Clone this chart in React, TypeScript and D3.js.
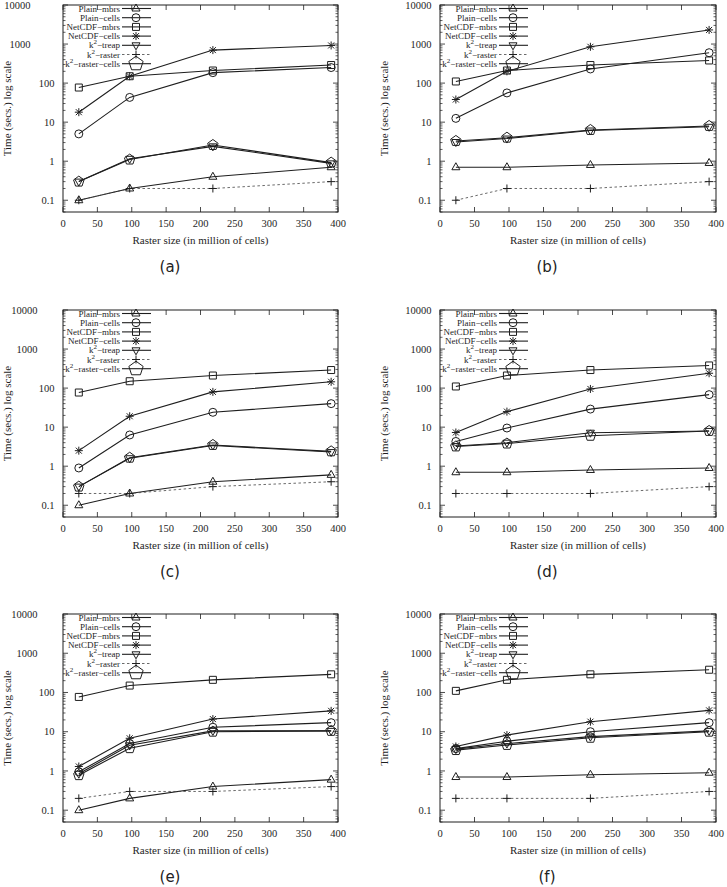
import { useEffect, useRef } from "react";
import * as d3 from "d3";

// raster sizes (million cells) shared by every panel
const rasterSizes = [23, 97, 218, 390];
const panelNames = ["(a)", "(b)", "(c)", "(d)", "(e)", "(f)"];
const seriesNames = [
	"Plain−mbrs",
	"Plain−cells",
	"NetCDF−mbrs",
	"NetCDF−cells",
	"k^2−treap",
	"k^2−raster",
	"k^2−raster−cells",
];
const xTickValues = [0, 50, 100, 150, 200, 250, 300, 350, 400];
const yTickValues = [0.1, 1, 10, 100, 1000, 10000];

// one row per panel (a..f), values in seconds
const plainMbrs = [
	[0.1, 0.2, 0.4, 0.7],
	[0.7, 0.7, 0.8, 0.9],
	[0.1, 0.2, 0.4, 0.6],
	[0.7, 0.7, 0.8, 0.9],
	[0.1, 0.2, 0.4, 0.6],
	[0.7, 0.7, 0.8, 0.9],
];
const plainCells = [
	[5, 43, 185, 250],
	[12.5, 56, 230, 600],
	[0.9, 6.3, 24, 40],
	[4.3, 9.5, 29, 68],
	[0.95, 5, 13, 17],
	[3.7, 5.7, 10, 17],
];
const netcdfMbrs = [
	[77, 150, 210, 290],
	[110, 210, 290, 380],
	[77, 150, 210, 290],
	[110, 210, 290, 380],
	[77, 150, 210, 290],
	[110, 210, 290, 380],
];
const netcdfCells = [
	[18, 150, 700, 920],
	[38, 200, 850, 2300],
	[2.5, 19, 80, 145],
	[7.3, 25, 95, 240],
	[1.3, 6.8, 21, 34],
	[4.2, 8.2, 18, 35],
];
const k2Treap = [
	[0.3, 1.15, 2.4, 0.88],
	[3.1, 3.8, 6.1, 7.6],
	[0.3, 1.6, 3.4, 2.3],
	[3.3, 4.0, 7.2, 8.0],
	[0.85, 4.5, 10.5, 10.5],
	[3.6, 5.0, 7.5, 10.5],
];
const k2Raster = [
	[0.1, 0.2, 0.2, 0.3],
	[0.1, 0.2, 0.2, 0.3],
	[0.2, 0.2, 0.3, 0.4],
	[0.2, 0.2, 0.2, 0.3],
	[0.2, 0.3, 0.3, 0.4],
	[0.2, 0.2, 0.2, 0.3],
];
const k2RasterCells = [
	[0.3, 1.1, 2.6, 0.92],
	[3.3, 4.0, 6.3, 8.0],
	[0.3, 1.65, 3.5, 2.4],
	[3.2, 3.8, 6.0, 8.0],
	[0.78, 3.8, 10, 10.5],
	[3.4, 4.6, 7.0, 10],
];

const seriesData = [plainMbrs, plainCells, netcdfMbrs, netcdfCells, k2Treap, k2Raster, k2RasterCells];
const markerKinds = ["tri", "circle", "square", "star", "dtri", "plus", "pent"];

const INK = "#1e1e1e";
const SERIF = "'Liberation Serif', 'Times New Roman', serif";

const cols = [
	{left: 63, right: 338, caption: 170},
	{left: 440, right: 716, caption: 547},
];
const rows = [
	{top: 5, bottom: 212},
	{top: 310, bottom: 517},
	{top: 614, bottom: 822},
];
// the left column pushes its 1000/10000 labels further left
const bigLabelShift = [24, 0, 17, 0, 17, 0];

const markerPath = (kind: string, big = false) => {
	const p = d3.path();
	if (kind === "tri") {
		p.moveTo(0, -4.5); p.lineTo(4, 2.5); p.lineTo(-4, 2.5); p.closePath();
	} else if (kind === "dtri") {
		p.moveTo(0, 4.5); p.lineTo(4, -2.5); p.lineTo(-4, -2.5); p.closePath();
	} else if (kind === "circle") {
		p.moveTo(4, 0); p.arc(0, 0, 4, 0, Math.PI * 2);
	} else if (kind === "square") {
		p.rect(-3.5, -3.5, 7, 7);
	} else if (kind === "star") {
		p.moveTo(-4, 0); p.lineTo(4, 0);
		p.moveTo(0, -4); p.lineTo(0, 4);
		p.moveTo(-3, -3); p.lineTo(3, 3);
		p.moveTo(-3, 3); p.lineTo(3, -3);
	} else if (kind === "plus") {
		p.moveTo(-4, 0); p.lineTo(4, 0);
		p.moveTo(0, -4); p.lineTo(0, 4);
	} else if (kind === "pent") {
		const r = big ? 7.5 : 5.5;
		for (let i = 0; i < 5; i++) {
			const a = -Math.PI / 2 + (i * 2 * Math.PI) / 5;
			const px = r * Math.cos(a), py = r * Math.sin(a);
			if (i === 0) p.moveTo(px, py); else p.lineTo(px, py);
		}
		p.closePath();
	}
	return p.toString();
};

const addLabel = (sel: any, name: string) => {
	const parts = name.split("^");
	if (parts.length === 1) {
		sel.text(name);
		return;
	}
	sel.append("tspan").text(parts[0]);
	sel.append("tspan").attr("font-size", 7).attr("dy", -4).text(parts[1][0]);
	sel.append("tspan").attr("dy", 4).text(parts[1].slice(1));
};

const App = () => {
	const svgRef = useRef<SVGSVGElement>(null);

	useEffect(() => {
		const svg = d3.select(svgRef.current);
		svg.selectAll("*").remove();

		panelNames.forEach((panelName, pi) => {
			const col = cols[pi % 2];
			const row = rows[Math.floor(pi / 2)];
			const x = d3.scaleLinear().domain([0, 400]).range([col.left, col.right]);
			const y = d3.scaleLog().domain([0.05, 10000]).range([row.bottom, row.top]);
			const g = svg.append("g");

			// ticks (inside, mirrored like gnuplot)
			const minor: number[] = [];
			[0.01, 0.1, 1, 10, 100, 1000].forEach((d) => {
				for (let k = 2; k <= 9; k++) {
					const v = d * k;
					if (v >= 0.05 && v < 10000) minor.push(v);
				}
			});
			minor.forEach((v) => {
				g.append("line").attr("x1", col.left).attr("x2", col.left + 2.5)
					.attr("y1", y(v)).attr("y2", y(v)).attr("stroke", INK).attr("stroke-width", 0.7);
				g.append("line").attr("x1", col.right).attr("x2", col.right - 2.5)
					.attr("y1", y(v)).attr("y2", y(v)).attr("stroke", INK).attr("stroke-width", 0.7);
			});
			yTickValues.forEach((v) => {
				g.append("line").attr("x1", col.left).attr("x2", col.left + 5)
					.attr("y1", y(v)).attr("y2", y(v)).attr("stroke", INK).attr("stroke-width", 0.8);
				g.append("line").attr("x1", col.right).attr("x2", col.right - 5)
					.attr("y1", y(v)).attr("y2", y(v)).attr("stroke", INK).attr("stroke-width", 0.8);
				const shift = v >= 1000 ? bigLabelShift[pi] : 0;
				g.append("text")
					.attr("x", col.left - 8.5 - shift)
					.attr("y", y(v) + 3.7)
					.attr("text-anchor", "end")
					.attr("font-family", SERIF)
					.attr("font-size", 10.5)
					.attr("fill", INK)
					.text(String(v));
			});
			xTickValues.forEach((v) => {
				g.append("line").attr("x1", x(v)).attr("x2", x(v))
					.attr("y1", row.bottom).attr("y2", row.bottom - 5).attr("stroke", INK).attr("stroke-width", 0.8);
				g.append("line").attr("x1", x(v)).attr("x2", x(v))
					.attr("y1", row.top).attr("y2", row.top + 5).attr("stroke", INK).attr("stroke-width", 0.8);
				g.append("text")
					.attr("x", x(v))
					.attr("y", row.bottom + 15)
					.attr("text-anchor", "middle")
					.attr("font-family", SERIF)
					.attr("font-size", 10.5)
					.attr("fill", INK)
					.text(String(v));
			});

			g.append("rect")
				.attr("x", col.left).attr("y", row.top)
				.attr("width", col.right - col.left).attr("height", row.bottom - row.top)
				.attr("fill", "none").attr("stroke", INK).attr("stroke-width", 1);

			// axis titles
			g.append("text")
				.attr("x", (col.left + col.right) / 2)
				.attr("y", row.bottom + 32)
				.attr("text-anchor", "middle")
				.attr("font-family", SERIF)
				.attr("font-size", 11)
				.attr("fill", INK)
				.text("Raster size (in million of cells)");
			g.append("text")
				.attr("transform", `translate(${col.left - 56},${(row.top + row.bottom) / 2}) rotate(-90)`)
				.attr("dy", "0.35em")
				.attr("text-anchor", "middle")
				.attr("font-family", SERIF)
				.attr("font-size", 11)
				.attr("fill", INK)
				.text("Time (secs.) log scale");
			g.append("text")
				.attr("x", col.caption)
				.attr("y", row.bottom + 59.5)
				.attr("text-anchor", "middle")
				.attr("font-family", "'DejaVu Sans', sans-serif")
				.attr("font-size", 15)
				.attr("fill", "#222")
				.text(panelName);

			// series
			const line = d3.line<[number, number]>().x((d) => x(d[0])).y((d) => y(d[1]));
			seriesData.forEach((series, si) => {
				const pts = rasterSizes.map((s, i) => [s, series[pi][i]] as [number, number]);
				const dashed = si === 5;
				g.append("path")
					.attr("d", line(pts))
					.attr("fill", "none")
					.attr("stroke", dashed ? "#444" : INK)
					.attr("stroke-width", dashed ? 0.8 : 1.1)
					.attr("stroke-dasharray", dashed ? "2.5,2.5" : null);
				pts.forEach((d) => {
					g.append("path")
						.attr("transform", `translate(${x(d[0])},${y(d[1])})`)
						.attr("d", markerPath(markerKinds[si]))
						.attr("fill", "none")
						.attr("stroke", INK)
						.attr("stroke-width", 1);
				});
			});

			// legend
			seriesNames.forEach((name, si) => {
				const ly = row.top + 3.5 + si * 9.2;
				const dashed = si === 5;
				const t = g.append("text")
					.attr("x", col.left + 57)
					.attr("y", ly + 3)
					.attr("text-anchor", "end")
					.attr("font-family", SERIF)
					.attr("font-size", 9)
					.attr("fill", INK);
				addLabel(t, name);
				g.append("line")
					.attr("x1", col.left + 59).attr("x2", col.left + 88)
					.attr("y1", ly).attr("y2", ly)
					.attr("stroke", dashed ? "#444" : INK)
					.attr("stroke-width", dashed ? 0.8 : 1.1)
					.attr("stroke-dasharray", dashed ? "2.5,2.5" : null);
				g.append("path")
					.attr("transform", `translate(${col.left + 73},${ly})`)
					.attr("d", markerPath(markerKinds[si], true))
					.attr("fill", "none")
					.attr("stroke", INK)
					.attr("stroke-width", 1);
			});
		});
	}, []);

	return (
		<svg
			ref={svgRef}
			width={727}
			height={887}
			style={{position: "absolute", left: 0, top: 0, background: "#fff"}}
		></svg>
	);
};

export default App;
